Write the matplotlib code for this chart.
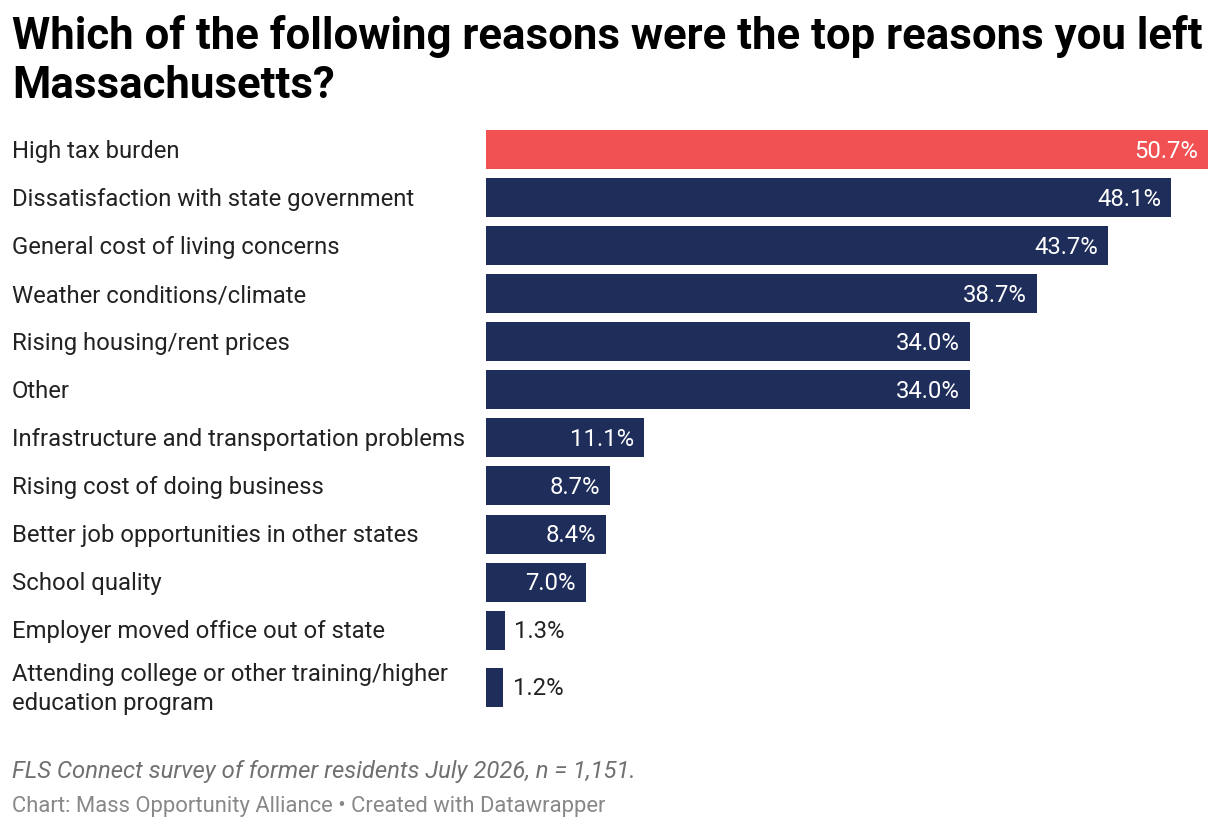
import numpy as np
import matplotlib.pyplot as plt
from matplotlib.transforms import blended_transform_factory

plt.rcParams['font.family'] = ['Roboto', 'DejaVu Sans']

# данные
reasons = [
    "High tax burden",
    "Dissatisfaction with state government",
    "General cost of living concerns",
    "Weather conditions/climate",
    "Rising housing/rent prices",
    "Other",
    "Infrastructure and transportation problems",
    "Rising cost of doing business",
    "Better job opportunities in other states",
    "School quality",
    "Employer moved office out of state",
    "Attending college or other training/higher\neducation program",
]
values = [50.7, 48.1, 43.7, 38.7, 34.0, 34.0, 11.1, 8.7, 8.4, 7.0, 1.3, 1.2]
highlight = "High tax burden"

title = "Which of the following reasons were the top reasons you left\nMassachusetts?"
note = "FLS Connect survey of former residents July 2026, n = 1,151."
credit = "Chart: Mass Opportunity Alliance \u2022 Created with Datawrapper"

RED = "#f15152"
NAVY = "#1e2d5a"

W, H = 1220, 830
fig = plt.figure(figsize=(W / 100, H / 100), dpi=100)

# позиции строк: двухстрочная подпись занимает больше места
row_h = [1.0 + 0.1875 * (r.count("\n") > 0) * 2 for r in reasons]
ypos = []
y = 0.0
for i, h in enumerate(row_h):
    if i > 0:
        y += (row_h[i - 1] + h) / 2
    ypos.append(y)
ypos = np.array(ypos)

top_px, bot_px = 126, 711
ax = fig.add_axes([486 / W, 1 - bot_px / H, (1208 - 486) / W, (bot_px - top_px) / H])
ax.set_xlim(0, max(values))
ax.set_ylim(ypos[-1] + 0.5, -0.5)
ax.axis("off")

colors = [RED if r == highlight else NAVY for r in reasons]
ax.barh(ypos, values, height=0.8125, color=colors)

for yy, v in zip(ypos, values):
    s = f"{v:.1f}%"
    if v > 5:
        ax.text(v - 0.7, yy + 0.04, s, ha="right", va="center", color="white", fontsize=17.2)
    else:
        ax.text(v + 0.7, yy + 0.04, s, ha="left", va="center", color="#222222", fontsize=17.2)

tr = blended_transform_factory(fig.transFigure, ax.transData)
for yy, r in zip(ypos, reasons):
    ax.text(12 / W, yy + 0.04, r, transform=tr, ha="left", va="center", fontsize=17.2,
            color="#222222", linespacing=1.3)

fig.text(12 / W, 1 - 15 / H, title, ha="left", va="top", fontsize=31.5,
         fontweight="bold", color="#000000", linespacing=1.22)
fig.text(12 / W, 1 - 771 / H, note, ha="left", va="center", fontsize=17.2,
         style="italic", color="#707070")
fig.text(12 / W, 1 - 806 / H, credit, ha="left", va="center", fontsize=15.8,
         color="#888888")

fig.savefig("out.png", dpi=100)
